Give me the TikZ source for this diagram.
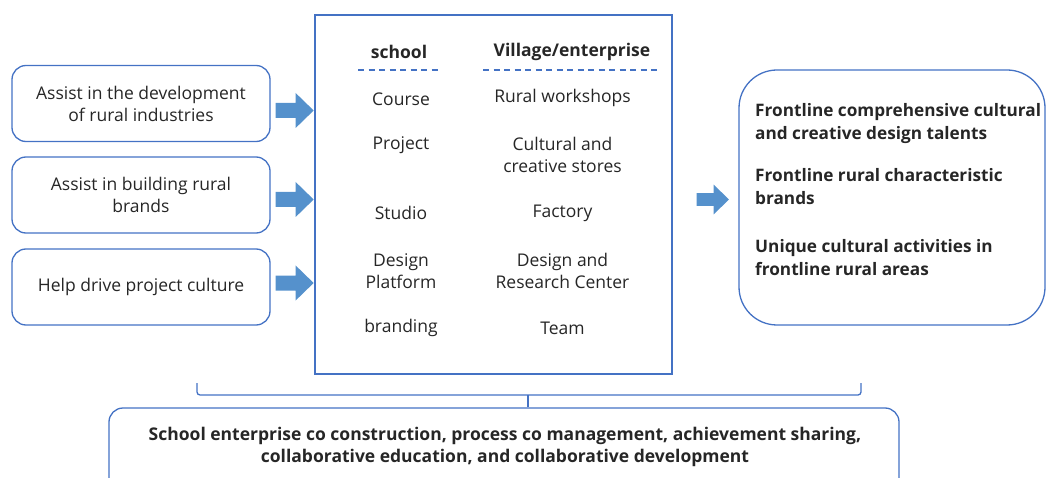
\documentclass[tikz,border=0pt]{standalone}
\usepackage{fontspec}
\setmainfont{Open Sans}
\usetikzlibrary{calc}
\definecolor{edge}{HTML}{4472C4}
\definecolor{arrowfill}{HTML}{5591CC}
\definecolor{ink}{HTML}{262626}
\begin{document}
\begin{tikzpicture}[x=1pt,y=-1pt,
  every node/.style={text=ink, inner sep=0pt, font=\fontsize{17.5}{22}\selectfont},
  frame/.style={draw=edge, line width=1.3pt},
  goalbox/.style={frame, rounded corners=14pt, minimum width=258pt, minimum height=76pt, align=center},
  cell/.style={align=center},
  head/.style={font=\fontsize{17.5}{22}\selectfont\bfseries},
  result/.style={anchor=north west, align=left, font=\fontsize{17.2}{23}\selectfont\bfseries},
  rule/.style={draw=edge, line width=1.3pt, dash pattern=on 6pt off 4.5pt},
  blockarrow/.pic={\fill[arrowfill] (0,-7.5) -- (20,-7.5) -- (20,-17.5) -- (38,0) -- (20,17.5) -- (20,7.5) -- (0,7.5) -- cycle;}
]
\useasboundingbox (0,0) rectangle (1046,478);
\clip (0,0) rectangle (1046,478);

% goals on the left
\node[goalbox] (g1) at (141,103.5) {Assist in the development\\of rural industries};
\node[goalbox] (g2) at (141,195) {Assist in building rural\\brands};
\node[goalbox] (g3) at (141,287) {Help drive project culture};

% central cooperation table
\node[frame, minimum width=357pt, minimum height=359pt] (hub) at (493.5,194.5) {};
\node[head] (hs) at (399,52) {school};
\node[head] (hv) at (572,52) {Village/enterprise};
\draw[rule] (358,70) -- (442,70);
\draw[rule] (483,70) -- (658,70);

\node[cell] (s1) at (401,99) {Course};
\node[cell] (s2) at (401,145) {Project};
\node[cell] (s3) at (401,213) {Studio};
\node[cell] (s4) at (401,271) {Design\\Platform};
\node[cell] (s5) at (401,328) {branding};

\node[cell] (v1) at (562.5,98) {Rural workshops};
\node[cell] (v2) at (562.5,155) {Cultural and\\creative stores};
\node[cell] (v3) at (562.5,213) {Factory};
\node[cell] (v4) at (562.5,271) {Design and\\Research Center};
\node[cell] (v5) at (562.5,328) {Team};

% arrows into the table
\pic at ($(g1.east)+(5,7)$) {blockarrow};
\pic at ($(g2.east)+(5,4.5)$) {blockarrow};
\pic at ($(g3.east)+(5,-4)$) {blockarrow};

% outcomes on the right
\node[frame, rounded corners=38pt, minimum width=306pt, minimum height=255pt] (out) at (892,197.5) {};
\pic[scale=0.85] at ($(hub.east)+(24,5)$) {blockarrow};
\node[result] (o1) at (755,103) {Frontline comprehensive cultural\\and creative design talents};
\node[result] (o2) at (755,168) {Frontline rural characteristic\\brands};
\node[result] (o3) at (755,239) {Unique cultural activities in\\frontline rural areas};

% shared mechanism underneath
\node[frame, rounded corners=14pt, minimum width=790pt, minimum height=92pt] (base) at (504,454) {};
\node[align=center, font=\fontsize{17.5}{22}\selectfont\bfseries] (basetext) at (505,447) {School enterprise co construction, process co management, achievement sharing,\\collaborative education, and collaborative development};
\draw[edge, line width=1.3pt, rounded corners=3pt] (197,383) -- (197,395) -- (861,395) -- (861,383);
\draw[edge, line width=1.3pt] (base.north -| 528,0) -- (528,395);
\end{tikzpicture}
\end{document}
